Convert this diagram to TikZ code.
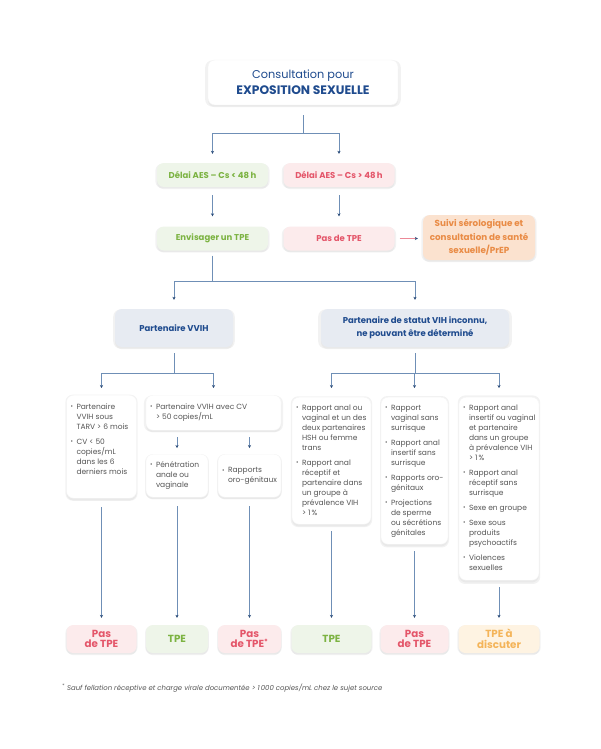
\documentclass[tikz,border=0pt]{standalone}
\usepackage{fontspec}
\usepackage{graphicx}
\setmainfont{Poppins}
\usetikzlibrary{arrows.meta,shadows}
\definecolor{navy}{HTML}{1F4B8E}
\definecolor{linec}{HTML}{6F8FB6}
\definecolor{tipc}{HTML}{2B4C7A}
\definecolor{grn}{HTML}{7CB342}
\definecolor{grnbg}{HTML}{EEF5E9}
\definecolor{red}{HTML}{E4566A}
\definecolor{pinkbg}{HTML}{FCEBEC}
\definecolor{orng}{HTML}{E98B45}
\definecolor{peach}{HTML}{FBE2CF}
\definecolor{partbg}{HTML}{E7EBF2}
\definecolor{txtgray}{HTML}{555555}
\definecolor{yel}{HTML}{F4B459}
\definecolor{cream}{HTML}{FEF3E2}
\newcommand\bul{\makebox[6pt][l]{\raisebox{0.3pt}{\scalebox{0.8}{\textbullet}}}}
\newcommand\crit[1]{{\renewcommand\arraystretch{1}\begin{tabular}{@{}l@{}l@{}}#1\end{tabular}}}
\begin{document}
\begin{tikzpicture}[x=1pt,y=-1pt,
  box/.style={rounded corners=7pt, inner sep=2pt, align=center,
    general shadow={fill=black, opacity=0.05, shadow xshift=0pt, shadow yshift=-1pt, shadow scale=1.03},
    drop shadow={opacity=0.08, shadow xshift=0pt, shadow yshift=-2.2pt}},
  topbox/.style={box, fill=white, draw=black!4, text=navy, minimum width=190pt, minimum height=45pt,
    font=\fontsize{11.3}{16}\selectfont},
  greenbox/.style={box, fill=grnbg, text=grn, minimum width=111pt, minimum height=24pt,
    font=\fontsize{8.5}{12}\selectfont\bfseries},
  redbox/.style={box, fill=pinkbg, text=red, minimum width=111pt, minimum height=24pt,
    font=\fontsize{8.5}{12}\selectfont\bfseries},
  orangebox/.style={box, fill=peach, text=orng, minimum width=112pt, minimum height=45pt,
    font=\fontsize{8.8}{13.5}\selectfont\bfseries},
  partbox/.style={box, fill=partbg, text=navy, minimum height=38pt,
    font=\fontsize{8.5}{13}\selectfont\bfseries},
  critbox/.style={box, fill=white, draw=black!4, inner sep=0pt},
  crittext/.style={inner sep=0pt, text=txtgray, align=left,
    font=\fontsize{7.5}{10}\selectfont},
  resbox/.style={box, minimum height=28pt, font=\fontsize{10.3}{10.5}\selectfont\bfseries},
  respas/.style={resbox, fill=pinkbg, text=red},
  restpe/.style={resbox, fill=grnbg, text=grn},
  resdis/.style={resbox, fill=cream, text=yel},
  ln/.style={draw=linec, line width=0.7pt},
  arr/.style={ln, -{Stealth[length=3pt,width=3.2pt,color=tipc]}}
]
\useasboundingbox[fill=white] (0,0) rectangle (600,749);

% top
\node[topbox] (top) at (303,82.5) {Consultation pour\\{\fontsize{12.3}{16}\selectfont\bfseries EXPOSITION SEXUELLE}};

% delays
\node[greenbox] (d1) at (212.5,175) {Délai AES – Cs < 48\,h};
\node[redbox]   (d2) at (339,175) {Délai AES – Cs > 48\,h};
\node[greenbox] (e1) at (212.5,238.5) {Envisager un TPE};
\node[redbox]   (e2) at (339,238.5) {Pas de TPE};
\node[orangebox] (s) at (479,237.5) {Suivi sérologique et\\consultation de santé\\sexuelle/PrEP};

% partners
\node[partbox, minimum width=118pt] (p1) at (174,328) {Partenaire VVIH};
\node[partbox, minimum width=188pt] (p2) at (415,328) {Partenaire de statut VIH inconnu,\\ne pouvant être déterminé};

% criteria boxes
\node[critbox, minimum width=70pt, minimum height=103pt, anchor=north] (c1) at (101.5,395) {};
\node[critbox, minimum width=135pt, minimum height=35pt, anchor=north] (c2) at (213.5,395) {};
\node[critbox, minimum width=62pt, minimum height=43pt, anchor=north] (c2a) at (177,454) {};
\node[critbox, minimum width=63pt, minimum height=43pt, anchor=north] (c2b) at (249.5,454) {};
\node[critbox, minimum width=79pt, minimum height=127pt, anchor=north] (c3) at (331.5,397) {};
\node[critbox, minimum width=67pt, minimum height=147pt, anchor=north] (c4) at (414.5,397) {};
\node[critbox, minimum width=80pt, minimum height=183pt, anchor=north] (c5) at (499,397) {};

\node[crittext, anchor=north west] (t1) at ([xshift=4pt,yshift=-7pt]c1.north west)
  {\crit{\bul & Partenaire\\ & VVIH sous\\ & TARV > 6 mois\\[5pt]
         \bul & CV < 50\\ & copies/mL\\ & dans les 6\\ & derniers mois}};
\node[crittext, anchor=north west] (t2) at ([xshift=4pt,yshift=-7pt]c2.north west)
  {\crit{\bul & Partenaire VVIH avec CV\\ & > 50 copies/mL}};
\node[crittext, anchor=north west] (t2a) at ([xshift=4pt,yshift=-6pt]c2a.north west)
  {\crit{\bul & Pénétration\\ & anale ou\\ & vaginale}};
\node[crittext, anchor=west] (t2b) at ([xshift=4pt]c2b.west)
  {\crit{\bul & Rapports\\ & oro-génitaux}};
\node[crittext, anchor=north west] (t3) at ([xshift=4pt,yshift=-6pt]c3.north west)
  {\crit{\bul & Rapport anal ou\\ & vaginal et un des\\ & deux partenaires\\ & HSH ou femme\\ & trans\\[5pt]
         \bul & Rapport anal\\ & réceptif et\\ & partenaire dans\\ & un groupe à\\ & prévalence VIH\\ & > 1\,\%}};
\node[crittext, anchor=north west] (t4) at ([xshift=4pt,yshift=-6pt]c4.north west)
  {\crit{\bul & Rapport\\ & vaginal sans\\ & surrisque\\[5pt]
         \bul & Rapport anal\\ & insertif sans\\ & surrisque\\[5pt]
         \bul & Rapports oro-\\ & génitaux\\[5pt]
         \bul & Projections\\ & de sperme\\ & ou sécrétions\\ & génitales}};
\node[crittext, anchor=north west] (t5) at ([xshift=4pt,yshift=-6pt]c5.north west)
  {\crit{\bul & Rapport anal\\ & insertif ou vaginal\\ & et partenaire\\ & dans un groupe\\ & à prévalence VIH\\ & > 1\,\%\\[5pt]
         \bul & Rapport anal\\ & réceptif sans\\ & surrisque\\[5pt]
         \bul & Sexe en groupe\\[5pt]
         \bul & Sexe sous\\ & produits\\ & psychoactifs\\[5pt]
         \bul & Violences\\ & sexuelles}};

% results
\node[respas, minimum width=70pt] (b1) at (101.5,639) {Pas\\de TPE};
\node[restpe, minimum width=62pt] (b2) at (177,639) {TPE};
\node[respas, minimum width=63pt] (b3) at (249.5,639) {Pas\\de TPE\textsuperscript{*}};
\node[restpe, minimum width=80pt] (b4) at (331.5,639) {TPE};
\node[respas, minimum width=68pt] (b5) at (414.5,639) {Pas\\de TPE};
\node[resdis, minimum width=81pt] (b6) at (499,639) {TPE à\\discuter};

% footnote
\node[anchor=west, inner sep=0pt, text=txtgray, font=\fontsize{6.9}{8}\selectfont\itshape] (fn) at (62,688)
  {\textsuperscript{*} Sauf fellation réceptive et charge virale documentée > 1\,000 copies/mL chez le sujet source};

% connectors
\coordinate (j1) at (303,133);
\draw[ln, shorten <=10pt] (top.south) -- (j1);
\draw[arr, shorten >=9pt] (j1) -| (d1.north);
\draw[arr, shorten >=9pt] (j1) -| (d2.north);
\draw[arr, shorten <=8pt, shorten >=10pt] (d1) -- (e1);
\draw[arr, shorten <=8pt, shorten >=10pt] (d2) -- (e2);
\draw[arr, line width=0.6pt, draw=red!70, shorten <=5pt, shorten >=5pt] (e2.east) -- (s.west |- e2.east);

\coordinate (j2) at (212.5,281);
\draw[ln, shorten <=5pt] (e1) -- (j2);
\draw[arr, shorten >=9pt] (j2) -| (p1.north);
\draw[arr, shorten >=9pt] (j2) -| (p2.north);

\coordinate (j3) at (174,373);
\draw[ln, shorten <=6pt] (p1) -- (j3);
\draw[arr, shorten >=7pt] (j3) -| (c1.north);
\draw[arr, shorten >=7pt] (j3) -| (c2.north);

\coordinate (j4) at (415,373);
\draw[ln, shorten <=6pt] (p2) -- (j4);
\draw[arr, shorten >=9pt] (j4) -| (c3.north);
\draw[arr, shorten >=9pt] (j4) -| (c4.north);
\draw[arr, shorten >=9pt] (j4) -| (c5.north);

\draw[arr, shorten <=7pt, shorten >=6pt] (c2a.north |- c2.south) -- (c2a.north);
\draw[arr, shorten <=7pt, shorten >=6pt] (c2b.north |- c2.south) -- (c2b.north);

\draw[arr, shorten <=9pt, shorten >=7pt] (c1) -- (b1);
\draw[arr, shorten <=9pt, shorten >=7pt] (c2a) -- (b2);
\draw[arr, shorten <=9pt, shorten >=7pt] (c2b) -- (b3);
\draw[arr, shorten <=7pt, shorten >=7pt] (c3) -- (b4);
\draw[arr, shorten <=7pt, shorten >=7pt] (c4) -- (b5);
\draw[arr, shorten <=7pt, shorten >=7pt] (c5) -- (b6);
\end{tikzpicture}
\end{document}
